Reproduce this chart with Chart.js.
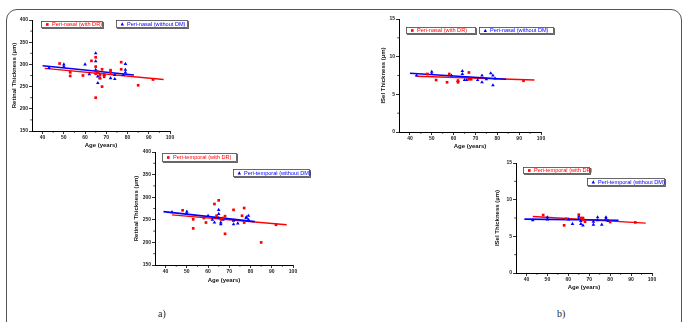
<!DOCTYPE html>
<html>
<head>
<meta charset="utf-8">
<script src="https://cdn.jsdelivr.net/npm/chart.js@4.4.1/dist/chart.umd.min.js"></script>
<style>
    html, body { margin: 0; padding: 0; background: #fff; }
    body { width: 686px; height: 322px; position: relative; overflow: hidden; }
    .frame {
        position: absolute; left: 6px; top: 9px; width: 676px; height: 420px;
        border: 1.5px solid #555; border-radius: 11px; box-sizing: border-box;
    }
    canvas { position: absolute; }
    .panel-label {
        position: absolute; font-family: "Liberation Serif", serif; font-size: 10px; color: #222;
    }
</style>
</head>
<body>
<div class="frame"></div>
<canvas id="nasalRetinal"></canvas>
<canvas id="temporalRetinal"></canvas>
<canvas id="nasalIsel"></canvas>
<canvas id="temporalIsel"></canvas>
<div class="panel-label" style="left:158px; top:308px;">a)</div>
<div class="panel-label" style="left:557px; top:308px;">b)</div>

<script>
// ---- data ----
const ageTicks = [40, 50, 60, 70, 80, 90, 100];
const retinalTicks = [150, 200, 250, 300, 350, 400];
const iselTicks = [0, 5, 10, 15];

// [age, thickness]
const nasalRetinalDR = [[48, 302], [53, 282], [53, 274], [59, 275], [63, 308], [65, 316], [65, 295], [65, 225], [65, 279], [66, 283], [67, 276], [67, 269], [68, 250], [68, 289], [69, 272], [69, 278], [72, 287], [72, 282], [77, 305], [77, 289], [85, 253], [92, 266]];
const nasalRetinalNoDM = [[43, 292], [50, 300], [50, 295], [60, 300], [62, 278], [65, 325], [65, 307], [65, 288], [66, 283], [66, 258], [66, 273], [67, 269], [69, 276], [72, 269], [74, 276], [74, 267], [78, 276], [79, 301], [79, 288], [79, 282]];
const nasalRetinalFitDR = [[41, 291], [97, 266]];
const nasalRetinalFitNoDM = [[40, 297], [83, 276]];

const temporalRetinalDR = [[48, 271], [53, 251], [53, 231], [58, 254], [59, 244], [63, 285], [65, 293], [64, 259], [66, 251], [67, 254], [68, 219], [68, 258], [72, 272], [76, 259], [77, 276], [77, 244], [85, 200], [92, 239]];
const temporalRetinalNoDM = [[43, 267], [50, 268], [50, 263], [60, 259], [62, 250], [63, 244], [65, 272], [65, 263], [65, 254], [66, 244], [66, 240], [67, 250], [72, 248], [72, 240], [74, 242], [78, 256], [78, 254], [79, 259], [79, 250]];
const temporalRetinalFitDR = [[43, 261], [97, 239]];
const temporalRetinalFitNoDM = [[39, 268], [82, 246]];

const nasalIselDR = [[48, 7.7], [52, 6.9], [57, 6.6], [58, 7.7], [62, 6.8], [62, 6.6], [67, 7.9], [67, 7.0], [68, 7.0], [92, 6.8]];
const nasalIselNoDM = [[43, 7.5], [50, 8.0], [50, 7.7], [59, 7.5], [62, 6.8], [64, 8.1], [64, 7.7], [65, 6.9], [66, 6.9], [71, 6.9], [73, 7.5], [73, 6.6], [75, 7.0], [77, 7.8], [78, 7.5], [78, 6.2], [79, 7.1]];
const nasalIselFitDR = [[43, 7.4], [97, 6.9]];
const nasalIselFitNoDM = [[40, 7.8], [84, 7.0]];

const temporalIselDR = [[48, 7.9], [58, 6.5], [59, 7.4], [65, 7.95], [66, 7.5], [67, 7.5], [67, 7.3], [68, 7.0], [80, 6.95], [92, 6.9]];
const temporalIselNoDM = [[43, 7.2], [50, 7.6], [50, 7.3], [60, 7.3], [62, 6.7], [65, 7.7], [65, 7.4], [66, 7.1], [66, 6.7], [67, 6.5], [72, 7.0], [72, 6.6], [74, 7.6], [74, 7.2], [76, 6.6], [78, 7.4], [78, 7.6], [79, 7.1]];
const temporalIselFitDR = [[43, 7.7], [97, 6.8]];
const temporalIselFitNoDM = [[39, 7.35], [84, 7.2]];

const RED = '#ff0000';
const BLUE = '#0000ff';
const FONT = '"Liberation Sans", Arial, sans-serif';

const toXY = arr => arr.map(p => ({ x: p[0], y: p[1] }));

// legend boxes, drawn inside the canvas in page coordinates
const legendPlugin = {
    id: 'boxLegend',
    afterDraw(chart, args, opts) {
        const ctx = chart.ctx;
        const ox = opts.originX, oy = opts.originY;
        opts.items.forEach(item => {
            const x = item.x - ox, y = item.y - oy;
            ctx.save();
            // shadow edge
            ctx.fillStyle = '#666';
            ctx.fillRect(x + 1, y + 1, item.w, item.h);
            ctx.fillStyle = '#fff';
            ctx.fillRect(x, y, item.w, item.h);
            ctx.strokeStyle = '#444';
            ctx.lineWidth = 0.8;
            ctx.strokeRect(x + 0.5, y + 0.5, item.w - 1, item.h - 1);
            const my = y + item.h / 2;
            ctx.fillStyle = item.color;
            if (item.marker === 'rect') {
                ctx.fillRect(x + 5, my - 1.3, 2.6, 2.6);
            } else {
                ctx.beginPath();
                ctx.moveTo(x + 6.3, my - 1.7);
                ctx.lineTo(x + 8, my + 1.4);
                ctx.lineTo(x + 4.6, my + 1.4);
                ctx.closePath();
                ctx.fill();
            }
            ctx.font = '5.6px ' + FONT;
            ctx.textBaseline = 'middle';
            ctx.fillText(item.text, x + 11, my + 0.3);
            ctx.restore();
        });
    }
};

// minor tick marks half way between the labelled ones
const minorTicks = {
    id: 'minorTicks',
    afterDraw(chart) {
        const ctx = chart.ctx;
        const a = chart.chartArea;
        ctx.save();
        ctx.strokeStyle = '#000';
        ctx.lineWidth = 0.7;
        ['x', 'y'].forEach(id => {
            const s = chart.scales[id];
            const vals = s.ticks.map(t => t.value);
            for (let i = 0; i < vals.length - 1; i++) {
                const v = (vals[i] + vals[i + 1]) / 2;
                const p = s.getPixelForValue(v);
                ctx.beginPath();
                if (id === 'x') { ctx.moveTo(p, a.bottom); ctx.lineTo(p, a.bottom + 1.8); }
                else { ctx.moveTo(a.left, p); ctx.lineTo(a.left - 1.8, p); }
                ctx.stroke();
            }
        });
        ctx.restore();
    }
};

function makePlot(cfg) {
    const el = document.getElementById(cfg.id);
    const a = cfg.area;
    const left = Math.round(cfg.yTitleX - 3.6);
    const top = a.t - 8;
    const rightPad = Math.max(12, cfg.extraRight || 0);
    const leftW = a.l - left;
    const bottomH = Math.round(cfg.xTitleY - a.b + 4.6);
    const w = a.r + rightPad - left;
    const h = a.b + bottomH - top;
    el.width = w; el.height = h;
    el.style.left = left + 'px'; el.style.top = top + 'px';
    el.style.width = w + 'px'; el.style.height = h + 'px';

    const axisBase = {
        type: 'linear',
        border: { display: true, color: '#000', width: 1 },
        grid: { drawOnChartArea: false, drawTicks: true, tickLength: 3, color: '#000', lineWidth: 0.8 },
        ticks: { color: '#222', padding: 1, font: { family: FONT, size: 5, weight: 'bold' } },
        title: { display: true, color: '#111', padding: 0, font: { family: FONT, size: 6, weight: 'bold' } }
    };

    new Chart(el, {
        type: 'scatter',
        data: {
            datasets: [
                { data: toXY(cfg.dr), pointStyle: 'rect', pointRadius: 1.9, backgroundColor: RED, borderColor: RED, borderWidth: 0, order: 1 },
                { data: toXY(cfg.noDM), pointStyle: 'triangle', pointRadius: 2.1, backgroundColor: BLUE, borderColor: BLUE, borderWidth: 0, order: 2 },
                { data: toXY(cfg.fitNoDM), showLine: true, pointRadius: 0, borderColor: BLUE, borderWidth: 1.6, order: 3 },
                { data: toXY(cfg.fitDR), showLine: true, pointRadius: 0, borderColor: RED, borderWidth: 1.4, order: 4 }
            ]
        },
        options: {
            responsive: false,
            animation: false,
            devicePixelRatio: 1,
            layout: { padding: { left: 0, top: 8, right: rightPad, bottom: 0 } },
            plugins: {
                legend: { display: false },
                tooltip: { enabled: false },
                boxLegend: { originX: left, originY: top, items: cfg.legend }
            },
            scales: {
                x: Object.assign({}, axisBase, {
                    min: 35, max: 100,
                    afterBuildTicks: s => { s.ticks = ageTicks.map(v => ({ value: v })); },
                    afterFit: s => { s.height = bottomH; },
                    title: Object.assign({}, axisBase.title, { text: 'Age (years)', padding: { top: 0, bottom: 1 } })
                }),
                y: Object.assign({}, axisBase, {
                    min: cfg.yTicks[0], max: cfg.yTicks[cfg.yTicks.length - 1],
                    afterBuildTicks: s => { s.ticks = cfg.yTicks.map(v => ({ value: v })); },
                    afterFit: s => { s.width = leftW; },
                    title: Object.assign({}, axisBase.title, { text: cfg.yTitle })
                })
            }
        },
        plugins: [legendPlugin, minorTicks]
    });
}

makePlot({
    id: 'nasalRetinal', area: { l: 32, r: 170, t: 20, b: 131 }, yTitleX: 15, xTitleY: 145,
    yTicks: retinalTicks, yTitle: 'Retinal Thickness (µm)', extraRight: 22,
    dr: nasalRetinalDR, noDM: nasalRetinalNoDM, fitDR: nasalRetinalFitDR, fitNoDM: nasalRetinalFitNoDM,
    legend: [
        { x: 41, y: 21, w: 62, h: 7, color: RED, marker: 'rect', text: 'Peri-nasal (with DR)' },
        { x: 116, y: 20, w: 72, h: 8, color: BLUE, marker: 'tri', text: 'Peri-nasal (without DM)' }
    ]
});

makePlot({
    id: 'temporalRetinal', area: { l: 155, r: 293, t: 152, b: 265 }, yTitleX: 137, xTitleY: 280,
    yTicks: retinalTicks, yTitle: 'Retinal Thickness (µm)', extraRight: 20,
    dr: temporalRetinalDR, noDM: temporalRetinalNoDM, fitDR: temporalRetinalFitDR, fitNoDM: temporalRetinalFitNoDM,
    legend: [
        { x: 162, y: 153, w: 75, h: 9, color: RED, marker: 'rect', text: 'Peri-temporal (with DR)' },
        { x: 233, y: 169, w: 77, h: 8, color: BLUE, marker: 'tri', text: 'Peri-temporal (without DM)' }
    ]
});

makePlot({
    id: 'nasalIsel', area: { l: 399, r: 541, t: 19, b: 132 }, yTitleX: 384, xTitleY: 146,
    yTicks: iselTicks, yTitle: 'ISel Thickness (µm)', extraRight: 16,
    dr: nasalIselDR, noDM: nasalIselNoDM, fitDR: nasalIselFitDR, fitNoDM: nasalIselFitNoDM,
    legend: [
        { x: 406, y: 27, w: 70, h: 7, color: RED, marker: 'rect', text: 'Peri-nasal (with DR)' },
        { x: 479, y: 27, w: 75, h: 7, color: BLUE, marker: 'tri', text: 'Peri-nasal (without DM)' }
    ]
});

makePlot({
    id: 'temporalIsel', area: { l: 516, r: 652, t: 163, b: 273 }, yTitleX: 498, xTitleY: 287,
    yTicks: iselTicks, yTitle: 'ISel Thickness (µm)', extraRight: 16,
    dr: temporalIselDR, noDM: temporalIselNoDM, fitDR: temporalIselFitDR, fitNoDM: temporalIselFitNoDM,
    legend: [
        { x: 523, y: 167, w: 67, h: 7, color: RED, marker: 'rect', text: 'Peri-temporal (with DR)' },
        { x: 587, y: 178, w: 78, h: 8, color: BLUE, marker: 'tri', text: 'Peri-temporal (without DM)' }
    ]
});
</script>
</body>
</html>
